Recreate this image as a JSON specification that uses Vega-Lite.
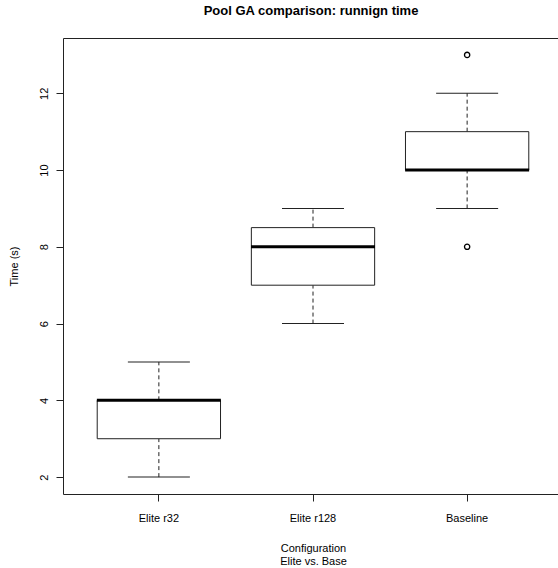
{
  "$schema": "https://vega.github.io/schema/vega-lite/v6.json",
  "width": 496,
  "height": 456,
  "autosize": {"type": "none"},
  "padding": {"left": 63, "top": 38, "right": 0, "bottom": 74},
  "title": {"text": "Pool GA comparison: runnign time", "font": "Liberation Sans", "fontSize": 13, "fontWeight": "bold", "anchor": "middle", "color": "#000", "offset": 20},
  "datasets": {
    "boxes": [
      {"config": "Elite r32", "lower": 2, "q1": 3, "median": 4, "q3": 4, "upper": 5},
      {"config": "Elite r128", "lower": 6, "q1": 7, "median": 8, "q3": 8.5, "upper": 9},
      {"config": "Baseline", "lower": 9, "q1": 10, "median": 10, "q3": 11, "upper": 12}
    ],
    "outliers": [
      {"config": "Baseline", "time": 13},
      {"config": "Baseline", "time": 8}
    ]
  },
  "encoding": {
    "x": {
      "field": "config", "type": "nominal",
      "sort": ["Elite r32", "Elite r128", "Baseline"],
      "scale": {"range": [0, 500], "paddingInner": 0.2, "paddingOuter": 0.222},
      "axis": {"title": ["Configuration", "Elite vs. Base"], "labelAngle": 0, "domain": false, "tickSize": 7, "labelPadding": 11, "titlePadding": 19, "titleLineHeight": 13, "titleColor": "#000"}
    }
  },
  "layer": [
    {
      "data": {"name": "boxes"},
      "mark": {"type": "rule", "strokeDash": [4, 3], "color": "#222", "strokeWidth": 1},
      "encoding": {
        "y": {"field": "lower", "type": "quantitative", "title": "Time (s)",
          "scale": {"domain": [1.56, 13.44], "nice": false, "zero": false},
          "axis": {"values": [2, 4, 6, 8, 10, 12], "grid": false, "domain": false, "tickSize": 7, "labelAngle": 270, "labelAlign": "center", "labelBaseline": "bottom", "labelPadding": 7, "titlePadding": 19, "titleColor": "#000"}},
        "y2": {"field": "q1", "title": "Time (s)"}
      }
    },
    {
      "data": {"name": "boxes"},
      "mark": {"type": "rule", "strokeDash": [4, 3], "color": "#222", "strokeWidth": 1},
      "encoding": {
        "y": {"field": "q3", "type": "quantitative", "title": "Time (s)"},
        "y2": {"field": "upper", "title": "Time (s)"}
      }
    },
    {
      "data": {"name": "boxes"},
      "mark": {"type": "tick", "size": 62, "thickness": 1, "color": "#222", "opacity": 1},
      "encoding": {"y": {"field": "lower", "type": "quantitative", "title": "Time (s)"}}
    },
    {
      "data": {"name": "boxes"},
      "mark": {"type": "tick", "size": 62, "thickness": 1, "color": "#222", "opacity": 1},
      "encoding": {"y": {"field": "upper", "type": "quantitative", "title": "Time (s)"}}
    },
    {
      "data": {"name": "boxes"},
      "mark": {"type": "bar", "fill": "#fff", "stroke": "#222", "strokeWidth": 1},
      "encoding": {
        "y": {"field": "q1", "type": "quantitative", "title": "Time (s)"},
        "y2": {"field": "q3", "title": "Time (s)"}
      }
    },
    {
      "data": {"name": "boxes"},
      "mark": {"type": "tick", "size": 124, "thickness": 3, "color": "#000", "opacity": 1},
      "encoding": {"y": {"field": "median", "type": "quantitative", "title": "Time (s)"}}
    },
    {
      "data": {"name": "outliers"},
      "mark": {"type": "point", "shape": "circle", "filled": false, "size": 28, "stroke": "#000", "strokeWidth": 1.3, "opacity": 1},
      "encoding": {"y": {"field": "time", "type": "quantitative", "title": "Time (s)"}}
    }
  ],
  "config": {
    "font": "Liberation Sans",
    "view": {"stroke": "#222", "strokeWidth": 1},
    "axis": {"labelFont": "Liberation Sans", "titleFont": "Liberation Sans", "labelFontSize": 11, "titleFontSize": 11, "titleFontWeight": "normal", "labelColor": "#000", "titleColor": "#000", "tickColor": "#222", "tickWidth": 1}
  }
}
